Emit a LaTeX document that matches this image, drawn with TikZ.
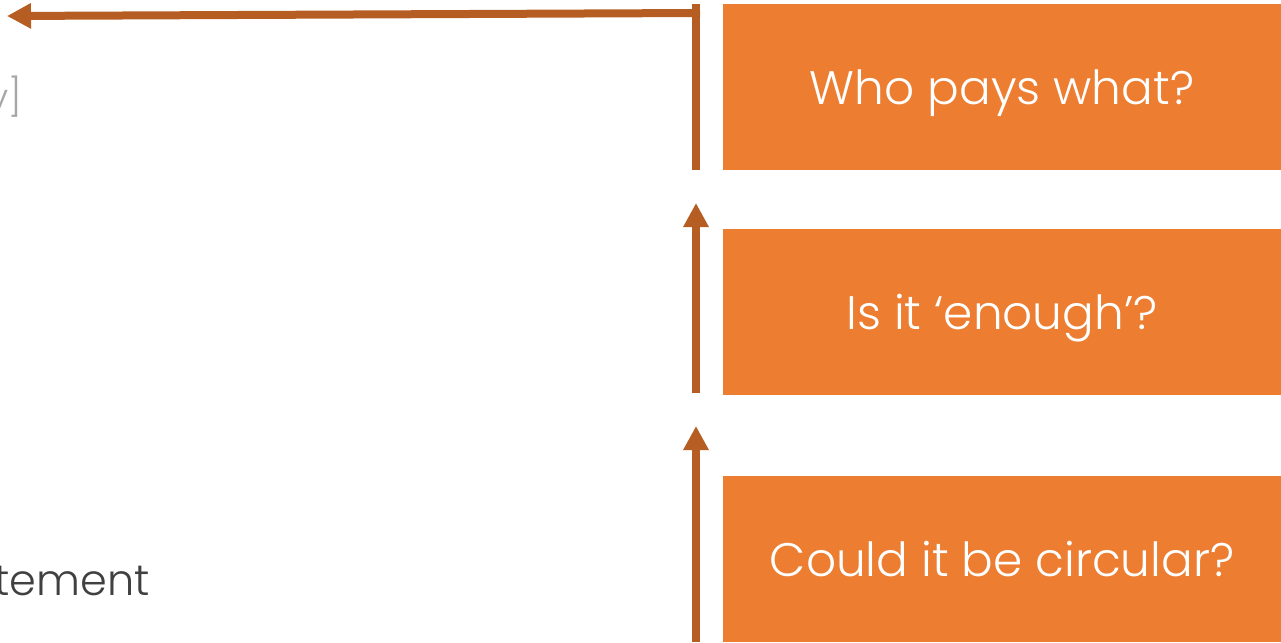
\documentclass[tikz,border=0pt]{standalone}
\usepackage{fontspec}
\setmainfont{Poppins Light}
\usetikzlibrary{arrows.meta}
\definecolor{boxorange}{HTML}{ED7D31}
\definecolor{arroworange}{HTML}{B55D23}
\definecolor{darktext}{HTML}{404040}
\definecolor{lighttext}{HTML}{A6A6A6}
\begin{document}
\begin{tikzpicture}[x=1pt,y=-1pt,
  qbox/.style={fill=boxorange, draw=none, minimum width=558pt, minimum height=166pt,
    inner sep=0pt, text=white, font=\fontsize{47}{52}\selectfont,
    text height=35pt, text depth=0pt},
  flow/.style={draw=arroworange, line width=8pt, -{Triangle[length=24pt,width=24pt]}},
  plainflow/.style={draw=arroworange, line width=8pt},
  sidetext/.style={inner sep=0pt, anchor=base east}
]
\useasboundingbox (0,0) rectangle (1281,642);

\node[qbox] (b1) at (1002,87) {Who pays what?};
\node[qbox] (b2) at (1002,311.5) {Is it ‘enough’?};
\node[qbox] (b3) at (1002,558.5) {Could it be circular?};

\node[sidetext, text=lighttext, font=\fontsize{37}{40}\selectfont] (t1) at (22,110) {y]};
\node[sidetext, text=darktext, font=\fontsize{43}{48}\selectfont] (t2) at (150,595) {tement};

\coordinate (a1s) at (696,170);
\coordinate (a1c) at (696,4);
\coordinate (a1h) at (700,13);
\coordinate (a1e) at (7,16);
\coordinate (a2s) at (696,393);
\coordinate (a2e) at (696,203);
\coordinate (a3s) at (696,642);
\coordinate (a3e) at (696,426);

\draw[plainflow] (a1s) -- (a1c);
\draw[flow] (a1h) -- (a1e);
\draw[flow] (a2s) -- (a2e);
\draw[flow] (a3s) -- (a3e);
\end{tikzpicture}
\end{document}
